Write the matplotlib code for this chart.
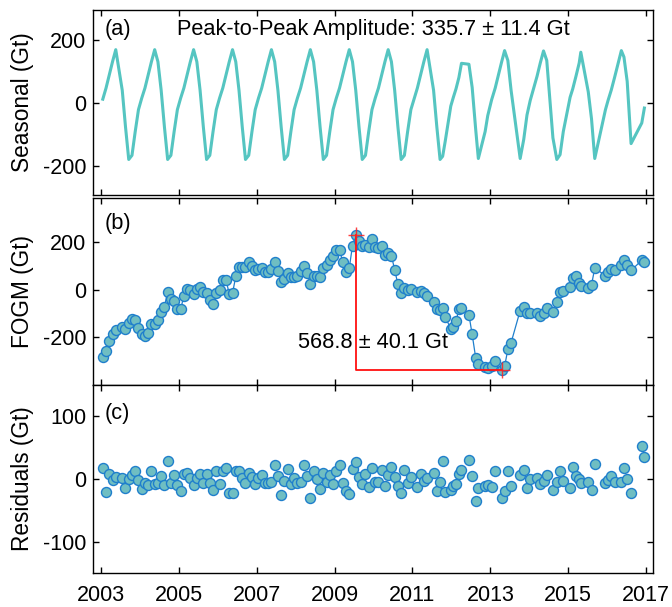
import matplotlib
matplotlib.use('Agg')
import matplotlib.pyplot as plt
import numpy as np

plt.rcParams['font.family'] = ['Liberation Sans', 'DejaVu Sans']
plt.rcParams['axes.unicode_minus'] = False

# months since Jan 2003 (0 = Jan 2003), GRACE observation epochs
month_index = [0, 1, 2, 3, 4,
               6, 7, 8, 9, 10, 11,
               12, 13, 14, 15, 16, 17, 18, 19, 20, 21, 22, 23,
               24, 25, 26, 27, 28, 29, 30, 31, 32, 33, 34, 35,
               36, 37, 38, 39, 40, 41, 42, 43, 44, 45, 46, 47,
               48, 49, 50, 51, 52, 53, 54, 55, 56, 57, 58, 59,
               60, 61, 62, 63, 64, 65, 66, 67, 68, 69, 70, 71,
               72, 73, 74, 75, 76, 77, 78, 79, 80, 81, 82, 83,
               84, 85, 86, 87, 88, 89, 90, 91, 92, 93, 94, 95,
               97, 98, 99, 100,
               102, 103, 104, 104.8, 105.6, 107.3, 108.1, 108.9, 109.8, 110.6,
               112.9, 113.9, 115.0, 115.8, 117.9, 118.7, 119.9, 121.0,
               123.0, 123.9, 124.9, 125.9, 128.7, 129.8, 130.8, 131.8,
               133.9, 134.9, 135.9, 136.9, 138.8, 140.0, 141.0, 142.0,
               144.1, 144.9, 145.9, 146.9, 147.4, 149.7, 150.7, 151.7,
               155.0, 155.8, 156.8, 157.8, 159.9, 160.7, 161.7, 162.9,
               166.2, 167.0]

seasonal = [12, 47, 88, 130, 168,
            40, -75, -178, -165, -90, -21,
            15, 47, 88, 130, 168, 130, 40, -75, -178, -165, -90, -21,
            15, 47, 88, 130, 168, 130, 40, -75, -178, -165, -90, -21,
            15, 47, 88, 130, 168, 130, 40, -75, -178, -165, -90, -21,
            15, 47, 88, 130, 168, 130, 40, -75, -178, -165, -90, -21,
            15, 47, 88, 130, 168, 130, 40, -75, -178, -165, -90, -21,
            15, 47, 88, 130, 168, 130, 40, -75, -178, -165, -90, -21,
            15, 47, 88, 130, 168, 130, 40, -75, -178, -165, -90, -21,
            47, 88, 130, 168,
            40, -75, -178, -168, -120, -10, 18, 44, 80, 125,
            122, 49, -85, -175, -90, -40, 10, 47,
            130, 165, 134, 40, -175, -115, -38, 8,
            84, 126, 164, 134, -110, -178, -163, -90,
            18, 44, 84, 126, 160, 35, -50, -175,
            -21, 8, 41, 80, 165, 145, 68, -128,
            -63, -16]

fogm = [-281, -255, -213, -187, -167,
        -156, -163, -139, -121, -125, -160,
        -185, -192, -182, -145, -142, -125, -93, -71, -7, -36, -47, -81,
        -81, -26, 4, 0, -17, 4, 11, -10, -14, -43, -61, -14,
        0, 40, 43, -18, -14, 57, 96, 96, 96, 116, 102, 82,
        88, 92, 75, 75, 89, 118, 81, 33, 45, 71, 54, 54,
        60, 78, 102, 71, 26, 60, 57, 54, 92, 106, 128, 142,
        167, 170, 116, 75, 92, 187, 232, 205, 187, 190, 180, 213,
        182, 178, 184, 149, 154, 145, 85, 24, -14, 8, 0, 3,
        -10, -6, -14, -26,
        -50, -82, -83, -76, -112, -165, -155, -132, -82, -74,
        -105, -187, -287, -312, -326, -328, -322, -298,
        -337, -322, -250, -222, -87, -72, -97, -99,
        -99, -111, -96, -78, -92, -52, -7, -3,
        14, 50, 57, 28, 17, 7, 21, 92,
        60, 74, 88, 82, 103, 128, 106, 82,
        125, 119]

residuals = [18, -20, 8, -2, 3,
             1, -15, 0, 7, 12, -2,
             -16, -7, -10, 13, -8, -7, 5, -10, 29, -7, 7, -9,
             -19, 8, 10, 2, -10, 2, 8, -6, 8, -6, -18, 13,
             -8, 13, 18, -22, -22, 13, 13, 1, -6, 10, 3, -8,
             2, 7, -6, -6, -4, 23, 5, -26, -3, 16, -8, 1,
             -6, -4, 23, 5, -31, 13, 0, -16, 10, -4, 7, -8,
             13, 23, -6, -19, -24, 16, 27, 3, -8, 8, -12, 18,
             -4, -4, 14, -11, 6, 19, 3, -11, -22, 14, -7, 3,
             -12, 8, -3, 1,
             10, -19, -4, 29, -21, -18, -11, -8, 8, 14,
             30, 5, -35, -15, -11, -9, -12, 13,
             -30, -19, 12, -11, 6, 14, -14, 0,
             1, -8, -3, 6, -17, -4, 12, -3,
             -14, 19, 5, 0, -7, -4, -18, 24,
             -7, -2, 5, -4, -4, 17, 0, -22,
             52, 35]

amp_text = 'Peak-to-Peak Amplitude: 335.7 \u00b1 11.4 Gt'
drop_text = '568.8 \u00b1 40.1 Gt'
year_ticks = [2003, 2005, 2007, 2009, 2011, 2013, 2015, 2017]

times = 2003 + (np.array(month_index) + 0.5) / 12.0

W, H = 672, 607
fig = plt.figure(figsize=(W / 100, H / 100), dpi=100)

def axes_px(left, top, right, bottom):
    return fig.add_axes([left / W, 1 - bottom / H, (right - left) / W, (bottom - top) / H])

ax_a = axes_px(93, 10, 653, 195)
ax_b = axes_px(93, 198, 653, 385)
ax_c = axes_px(93, 385, 653, 573)

line_col = '#55c5c1'
face_col = '#6fbec2'
edge_col = '#1f7fcc'
fs_tick = 15.5
fs_text = 15.7
fs_lab = 16.3

for ax in (ax_a, ax_b, ax_c):
    ax.set_xlim(2002.79, 2017.18)
    ax.set_xticks(year_ticks)
    ax.tick_params(direction='in', top=True, right=True, length=4.5, width=1,
                   labelsize=fs_tick, pad=5)
    ax.tick_params(axis='x', pad=8.5)
    for s in ax.spines.values():
        s.set_linewidth(1.0)

ax_a.tick_params(labelbottom=False)
ax_b.tick_params(labelbottom=False)

# (a) seasonal
ax_a.plot(times, seasonal, color=line_col, lw=2.2)
ax_a.set_ylim(-290, 293)
ax_a.set_yticks([-200, 0, 200])
ax_a.set_ylabel('Seasonal (Gt)', fontsize=fs_lab)
ax_a.text(0.02, 0.897, '(a)', transform=ax_a.transAxes, fontsize=fs_text, va='center', ha='left')
ax_a.text(0.1505, 0.897, amp_text, transform=ax_a.transAxes, fontsize=fs_text, va='center', ha='left')

# (b) FOGM
ax_b.plot(times, fogm, '-', color=edge_col, lw=0.9, zorder=2)
ax_b.plot(times, fogm, 'o', ms=7.2, mfc=face_col, mec=edge_col, mew=1.0, zorder=3)
i_max = int(np.argmax(fogm))
i_min = int(np.argmin(fogm))
t_max, v_max = times[i_max], fogm[i_max]
t_min, v_min = times[i_min], fogm[i_min]
ax_b.plot([t_max, t_max, t_min], [v_max, v_min, v_min], color='#ff1010', lw=1.3, zorder=4)
ax_b.plot([t_max, t_min], [v_max, v_min], '+', color='#ff2020', ms=11, mew=1.0, alpha=0.85, zorder=5)
ax_b.set_ylim(-400, 387)
ax_b.set_yticks([-200, 0, 200])
ax_b.set_ylabel('FOGM (Gt)', fontsize=fs_lab)
ax_b.text(0.02, 0.861, '(b)', transform=ax_b.transAxes, fontsize=fs_text, va='center', ha='left')
ax_b.text(0.366, 0.2246, drop_text, transform=ax_b.transAxes, fontsize=fs_text, va='center', ha='left')

# (c) residuals
ax_c.plot(times, residuals, 'o', ms=7.2, mfc=face_col, mec=edge_col, mew=1.0, zorder=3)
ax_c.set_ylim(-150, 150)
ax_c.set_yticks([-100, 0, 100])
ax_c.set_ylabel('Residuals (Gt)', fontsize=fs_lab)
ax_c.text(0.02, 0.846, '(c)', transform=ax_c.transAxes, fontsize=fs_text, va='center', ha='left')
ax_c.set_xticklabels([str(y) for y in year_ticks])

for ax in (ax_a, ax_b, ax_c):
    ax.yaxis.set_label_coords(-0.105, 0.5)

fig.savefig('out.png', dpi=100)
